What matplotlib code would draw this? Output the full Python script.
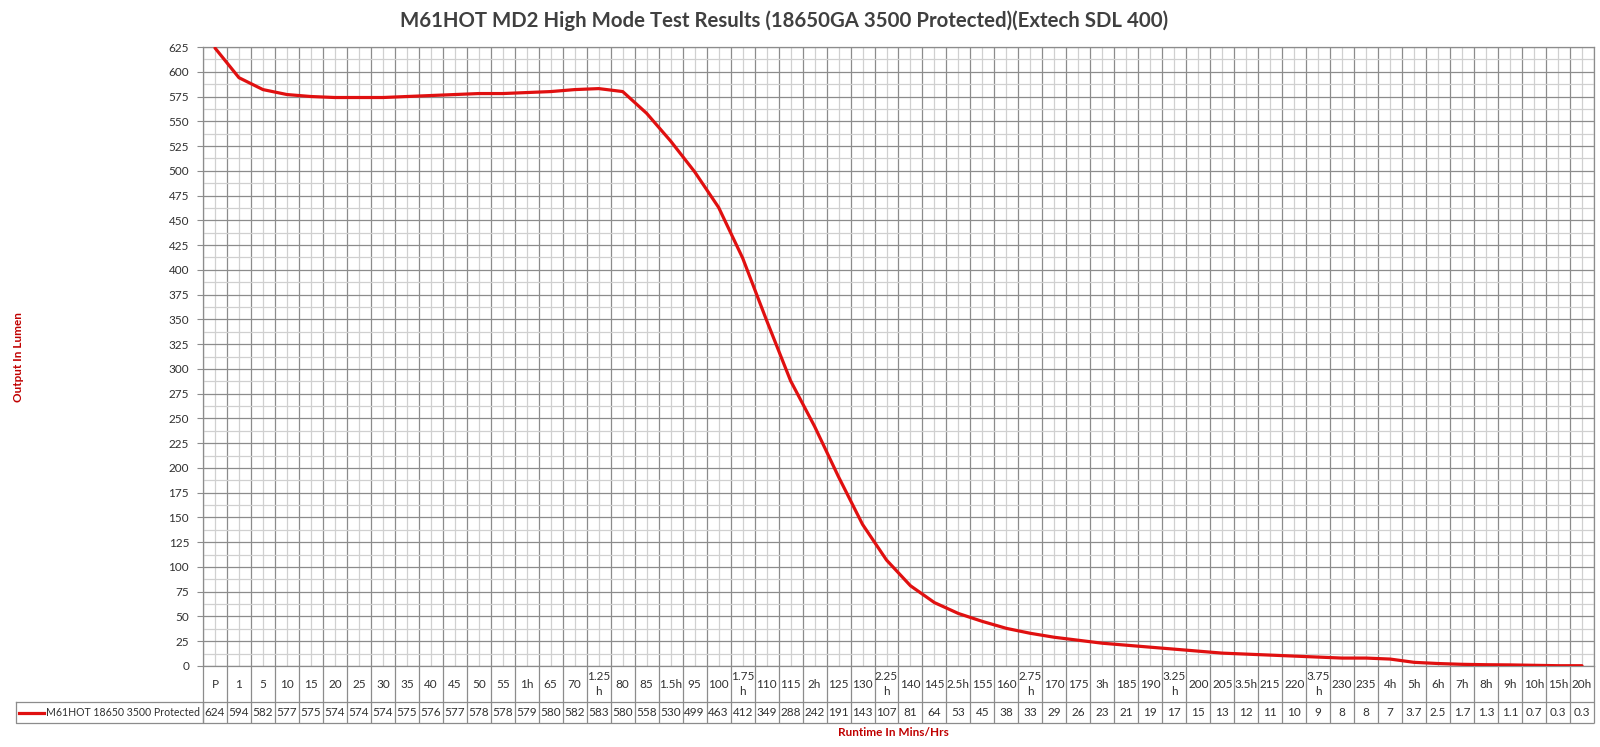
import numpy as np
import matplotlib.pyplot as plt
from matplotlib.lines import Line2D
from matplotlib.ticker import MultipleLocator, FixedLocator

plt.rcParams['font.family'] = ['Lato', 'DejaVu Sans']

# categories (runtime) and output values
labels = ['P', '1', '5', '10', '15', '20', '25', '30', '35', '40', '45', '50', '55', '1h',
          '65', '70', '1.25\nh', '80', '85', '1.5h', '95', '100', '1.75\nh', '110', '115', '2h',
          '125', '130', '2.25\nh', '140', '145', '2.5h', '155', '160', '2.75\nh', '170', '175',
          '3h', '185', '190', '3.25\nh', '200', '205', '3.5h', '215', '220', '3.75\nh', '230',
          '235', '4h', '5h', '6h', '7h', '8h', '9h', '10h', '15h', '20h']
values = [624, 594, 582, 577, 575, 574, 574, 574, 575, 576, 577, 578, 578, 579, 580, 582,
          583, 580, 558, 530, 499, 463, 412, 349, 288, 242, 191, 143, 107, 81, 64, 53, 45,
          38, 33, 29, 26, 23, 21, 19, 17, 15, 13, 12, 11, 10, 9, 8, 8, 7, 3.7, 2.5, 1.7, 1.3,
          1.1, 0.7, 0.3, 0.3]
value_text = ['%g' % v for v in values]
series_name = 'M61HOT 18650 3500 Protected'

W, H = 1600, 747
fig = plt.figure(figsize=(16, 7.47), dpi=100)
left, right, top, bottom = 203, 1594, 47, 666
ax = fig.add_axes([left / W, (H - bottom) / H, (right - left) / W, (bottom - top) / H])

n = len(labels)
x = np.arange(n)
red = '#E01010'
ax.plot(x, values, color=red, lw=2.3, solid_capstyle='round', zorder=3)

ax.set_xlim(-0.5, n - 0.5)
ax.set_ylim(0, 625)
ax.yaxis.set_major_locator(MultipleLocator(25))
ax.yaxis.set_minor_locator(MultipleLocator(12.5))
ax.xaxis.set_major_locator(FixedLocator(np.arange(n + 1) - 0.5))
ax.xaxis.set_minor_locator(FixedLocator(x))
ax.grid(which='major', color='#8c8c8c', lw=0.9)
ax.grid(which='minor', color='#d0d0d0', lw=0.9)
ax.set_axisbelow(True)
ax.set_xticklabels([])
ax.tick_params(axis='x', which='both', length=0)
ax.tick_params(axis='y', which='major', length=4, color='#8c8c8c', labelsize=8.5,
               labelcolor='#303030', pad=6)
ax.tick_params(axis='y', which='minor', length=0)
for s in ax.spines.values():
    s.set_color('#8c8c8c')
    s.set_linewidth(0.9)


def ay(py):
    # figure pixel row -> axes fraction
    return (bottom - py) / (bottom - top)


tr = ax.get_xaxis_transform()
row1, row2 = 702, 723
# table grid
ax.vlines(np.arange(n + 1) - 0.5, ay(row2), 0, transform=tr, color='#8c8c8c', lw=0.9,
          clip_on=False)
ax.hlines([ay(row1), ay(row2)], -0.5, n - 0.5, transform=tr, color='#8c8c8c', lw=0.9,
          clip_on=False)
for i in range(n):
    ax.text(x[i], ay((bottom + row1) / 2), labels[i], transform=tr, ha='center', va='center',
            fontsize=8.5, color='#303030', linespacing=1.4, clip_on=False)
    ax.text(x[i], ay((row1 + row2) / 2), value_text[i], transform=tr, ha='center',
            va='center', fontsize=8.5, color='#303030', clip_on=False)

# legend cell
fy = lambda py: (H - py) / H
fig.add_artist(Line2D([16 / W, 16 / W, left / W, left / W, 16 / W],
                      [fy(row1), fy(row2), fy(row2), fy(row1), fy(row1)],
                      transform=fig.transFigure, color='#8c8c8c', lw=0.9))
fig.add_artist(Line2D([19 / W, 44 / W], [fy(712.5)] * 2, transform=fig.transFigure,
                      color=red, lw=2.3))
fig.text(46 / W, fy(712.5), series_name, ha='left', va='center', fontsize=7.6,
         color='#303030')

fig.text(784 / W, fy(21), 'M61HOT MD2 High Mode Test Results (18650GA 3500 Protected)(Extech SDL 400)',
         ha='center', va='center', fontsize=14.7, fontweight='bold', color='#404040')
fig.text(893 / W, fy(733), 'Runtime In Mins/Hrs', ha='center', va='center', fontsize=8.5,
         fontweight='bold', color='#C00000')
fig.text(19 / W, fy(357), 'Output In Lumen', ha='center', va='center', rotation=90,
         fontsize=8.5, fontweight='bold', color='#C00000')

plt.savefig('out.png', dpi=100)
